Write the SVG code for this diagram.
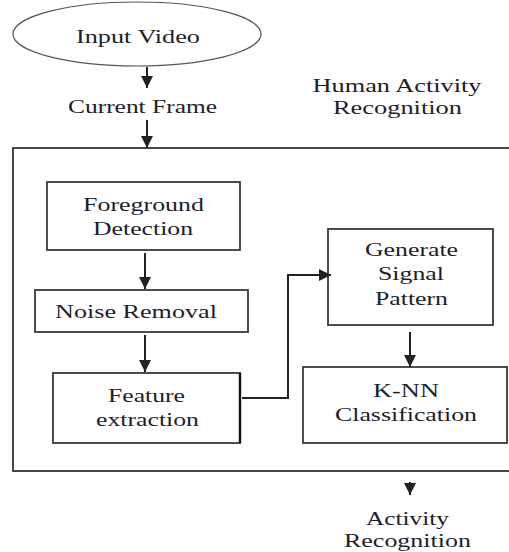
<svg xmlns="http://www.w3.org/2000/svg" width="509" height="552" viewBox="0 0 509 552">
<defs>
<style>
text{font-family:"Liberation Serif","DejaVu Serif","Times New Roman",serif;font-size:19px;fill:#1e1e2a;text-anchor:middle}
.box{fill:#fff;stroke:#3a3a3a;stroke-width:1.8}
.ln{fill:none;stroke:#222;stroke-width:2}
</style>
<marker id="ah" viewBox="0 0 12 12" refX="12" refY="6" markerWidth="13" markerHeight="12" markerUnits="userSpaceOnUse" orient="auto">
<path d="M0,0 L12,6 L0,12 Z" fill="#222"/>
</marker>
</defs>
<rect x="0" y="0" width="509" height="552" fill="#fff"/>
<g id="frame"><rect x="13" y="148" width="497" height="323" fill="none" stroke="#333" stroke-width="1.8"/></g>
<g id="input-video">
<ellipse cx="137" cy="34" rx="124" ry="32" fill="#fff" stroke="#555" stroke-width="1.2"/>
<text x="138" y="43" textLength="124" lengthAdjust="spacingAndGlyphs">Input Video</text>
</g>
<g id="current-frame"><text x="142.5" y="113" textLength="149" lengthAdjust="spacingAndGlyphs">Current Frame</text></g>
<g id="title">
<text x="397" y="92" textLength="169" lengthAdjust="spacingAndGlyphs">Human Activity</text>
<text x="397.5" y="114" textLength="129" lengthAdjust="spacingAndGlyphs">Recognition</text>
</g>
<g id="foreground">
<rect class="box" x="47" y="182" width="193" height="68"/>
<text x="143.5" y="211" textLength="121" lengthAdjust="spacingAndGlyphs">Foreground</text>
<text x="143" y="235" textLength="100" lengthAdjust="spacingAndGlyphs">Detection</text>
</g>
<g id="noise">
<rect class="box" x="35" y="290" width="213" height="42"/>
<text x="136" y="318" textLength="162" lengthAdjust="spacingAndGlyphs">Noise Removal</text>
</g>
<g id="feature">
<rect class="box" x="53" y="373" width="187" height="70"/>
<line x1="240" y1="373" x2="240" y2="443" stroke="#111" stroke-width="2.4"/>
<text x="146.5" y="402" textLength="77" lengthAdjust="spacingAndGlyphs">Feature</text>
<text x="147.5" y="426" textLength="103" lengthAdjust="spacingAndGlyphs">extraction</text>
</g>
<g id="generate">
<rect class="box" x="328" y="229" width="165" height="96"/>
<text x="411.5" y="256" textLength="93" lengthAdjust="spacingAndGlyphs">Generate</text>
<text x="411" y="280" textLength="66" lengthAdjust="spacingAndGlyphs">Signal</text>
<text x="411.5" y="305" textLength="73" lengthAdjust="spacingAndGlyphs">Pattern</text>
</g>
<g id="knn">
<rect class="box" x="303" y="367" width="204" height="76"/>
<text x="406" y="397" textLength="66" lengthAdjust="spacingAndGlyphs">K-NN</text>
<text x="406" y="421" textLength="142" lengthAdjust="spacingAndGlyphs">Classification</text>
</g>
<g id="activity">
<text x="407.5" y="525" textLength="83" lengthAdjust="spacingAndGlyphs">Activity</text>
<text x="407.5" y="547" textLength="127" lengthAdjust="spacingAndGlyphs">Recognition</text>
</g>
<g id="connectors">
<line class="ln" x1="147" y1="67" x2="147" y2="88" marker-end="url(#ah)"/>
<line class="ln" x1="147" y1="120" x2="147" y2="148" marker-end="url(#ah)"/>
<line class="ln" x1="145" y1="253" x2="145" y2="289" marker-end="url(#ah)"/>
<line class="ln" x1="145" y1="335" x2="145" y2="372" marker-end="url(#ah)"/>
<polyline class="ln" points="242,398 288,398 288,275 331,275" marker-end="url(#ah)"/>
<line class="ln" x1="410" y1="332" x2="410" y2="367" marker-end="url(#ah)"/>
<line class="ln" x1="410" y1="482" x2="410" y2="495" marker-end="url(#ah)"/>
</g>
</svg>
